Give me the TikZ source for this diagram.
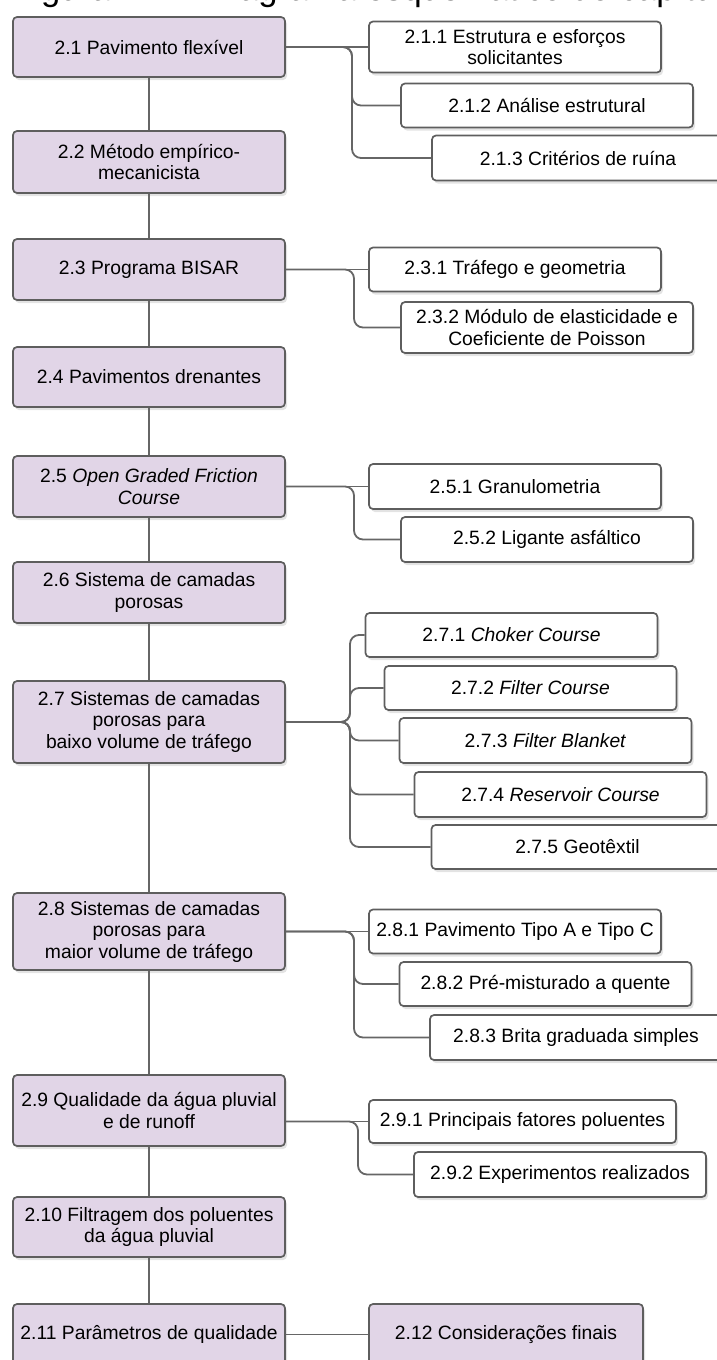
\documentclass[tikz,border=0pt]{standalone}
\usepackage{fontspec}
\setmainfont{Liberation Sans}
\usepackage{xcolor}
\usepackage{tikz}
\usetikzlibrary{positioning,shadows}
\definecolor{secfill}{HTML}{E1D5E7}
\definecolor{boxline}{HTML}{5E5E5E}
\definecolor{linkgray}{HTML}{666666}

\begin{document}
\begin{tikzpicture}[
  x=1pt, y=-1pt,
  every node/.style={font=\fontsize{19.3}{21.5}\selectfont},
  sec/.style={draw=boxline, line width=1.7pt, rounded corners=4pt, fill=secfill, align=center, inner sep=2pt,
    minimum width=272pt, minimum height=60pt,
    drop shadow={shadow xshift=2pt, shadow yshift=-3pt, opacity=0.22}},
  sub/.style={sec, fill=white, minimum width=292pt, minimum height=45pt},
  link/.style={draw=linkgray, line width=1.8pt, rounded corners=9pt},
]
\useasboundingbox (0,0) rectangle (716,1360);

% legenda (cortada no topo)
\node[font=\fontsize{34.6}{40}\selectfont, anchor=base west, inner sep=0pt] (cap) at (12,0.5) {Figura 2.1 – Diagrama esquemático do capítulo};

% ---------------- secoes: coluna da esquerda ----------------
\node[sec] (p21) at (149,47) {2.1 Pavimento flexível};
\node[sec, minimum height=62pt] (p22) at (149,162) {2.2 Método empírico-\\mecanicista};
\node[sec, minimum height=61pt] (p23) at (149,269.5) {2.3 Programa BISAR};
\node[sec] (p24) at (149,377) {2.4 Pavimentos drenantes};
\node[sec, minimum height=61pt] (p25) at (149,486.5) {2.5 \textit{Open Graded Friction}\\\textit{Course}};
\node[sec, minimum height=61pt] (p26) at (149,592.5) {2.6 Sistema de camadas\\porosas};
\node[sec, minimum height=82pt] (p27) at (149,722) {2.7 Sistemas de camadas\\porosas para\\baixo volume de tráfego};
\node[sec, minimum height=77pt] (p28) at (149,931.5) {2.8 Sistemas de camadas\\porosas para\\maior volume de tráfego};
\node[sec, minimum height=71pt] (p29) at (149,1110.5) {2.9 Qualidade da água pluvial\\e de runoff};
\node[sec] (p210) at (149,1227) {2.10 Filtragem dos poluentes\\da água pluvial};
\node[sec, minimum height=61pt] (p211) at (149,1334.5) {2.11 Parâmetros de qualidade};
\node[sec, minimum width=274pt, minimum height=61pt] (p212) at (506,1334.5) {2.12 Considerações finais};

% ---------------- subsecoes ----------------
\node[sub, minimum height=51pt] (c211) at (515,47) {2.1.1 Estrutura e esforços\\solicitantes};
\node[sub, minimum height=44pt] (c212) at (547,105.5) {2.1.2 Análise estrutural};
\node[sub] (c213) at (578,158) {2.1.3 Critérios de ruína};

\node[sub, minimum height=44pt] (c231) at (515,269.5) {2.3.1 Tráfego e geometria};
\node[sub, minimum height=51pt] (c232) at (547,327.5) {2.3.2 Módulo de elasticidade e\\Coeficiente de Poisson};

\node[sub] (c251) at (515,486.5) {2.5.1 Granulometria};
\node[sub] (c252) at (547,539.5) {2.5.2 Ligante asfáltico};

\node[sub, minimum height=44pt] (c271) at (511.5,635) {2.7.1 \textit{Choker Course}};
\node[sub, minimum height=44pt] (c272) at (530.5,688) {2.7.2 \textit{Filter Course}};
\node[sub] (c273) at (545.5,740.5) {2.7.3 \textit{Filter Blanket}};
\node[sub] (c274) at (560.5,794.5) {2.7.4 \textit{Reservoir Course}};
\node[sub, minimum height=44pt] (c275) at (577.5,847) {2.7.5 Geotêxtil};

\node[sub, minimum height=44pt] (c281) at (515,931.5) {2.8.1 Pavimento Tipo A e Tipo C};
\node[sub, minimum height=44pt] (c282) at (545.5,984) {2.8.2 Pré-misturado a quente};
\node[sub] (c283) at (576,1037.5) {2.8.3 Brita graduada simples};

\node[sub, minimum width=307pt, minimum height=43pt] (c291) at (522.5,1121.5) {2.9.1 Principais fatores poluentes};
\node[sub] (c292) at (560,1174.5) {2.9.2 Experimentos realizados};

% ---------------- ligacoes ----------------
\foreach \a/\b in {p21/p22,p22/p23,p23/p24,p24/p25,p25/p26,p26/p27,p27/p28,p28/p29,p29/p210,p210/p211,p211/p212}
  \draw[link] (\a) -- (\b);

% pontos de ramificacao
\coordinate (j21) at (352,47);
\coordinate (j23) at (354,269.5);
\coordinate (j25) at (354,486.5);
\coordinate (j27) at (350,722);
\coordinate (j28) at (354,931.5);
\coordinate (j29) at (358,1121.5);

\draw[link] (p21.east) -- (c211.west);
\foreach \c in {c212,c213} \draw[link] (p21.east) -| (j21 |- \c.west) -- (\c.west);

\draw[link] (p23.east) -- (c231.west);
\draw[link] (p23.east) -| (j23 |- c232.west) -- (c232.west);

\draw[link] (p25.east) -- (c251.west);
\draw[link] (p25.east) -| (j25 |- c252.west) -- (c252.west);

\foreach \c in {c271,c272,c273,c274,c275} \draw[link] (p27.east) -| (j27 |- \c.west) -- (\c.west);

\draw[link] (p28.east) -- (c281.west);
\foreach \c in {c282,c283} \draw[link] (p28.east) -| (j28 |- \c.west) -- (\c.west);

\draw[link] (p29.east |- c291.west) -- (c291.west);
\draw[link] (p29.east |- c291.west) -| (j29 |- c292.west) -- (c292.west);
\end{tikzpicture}
\end{document}
